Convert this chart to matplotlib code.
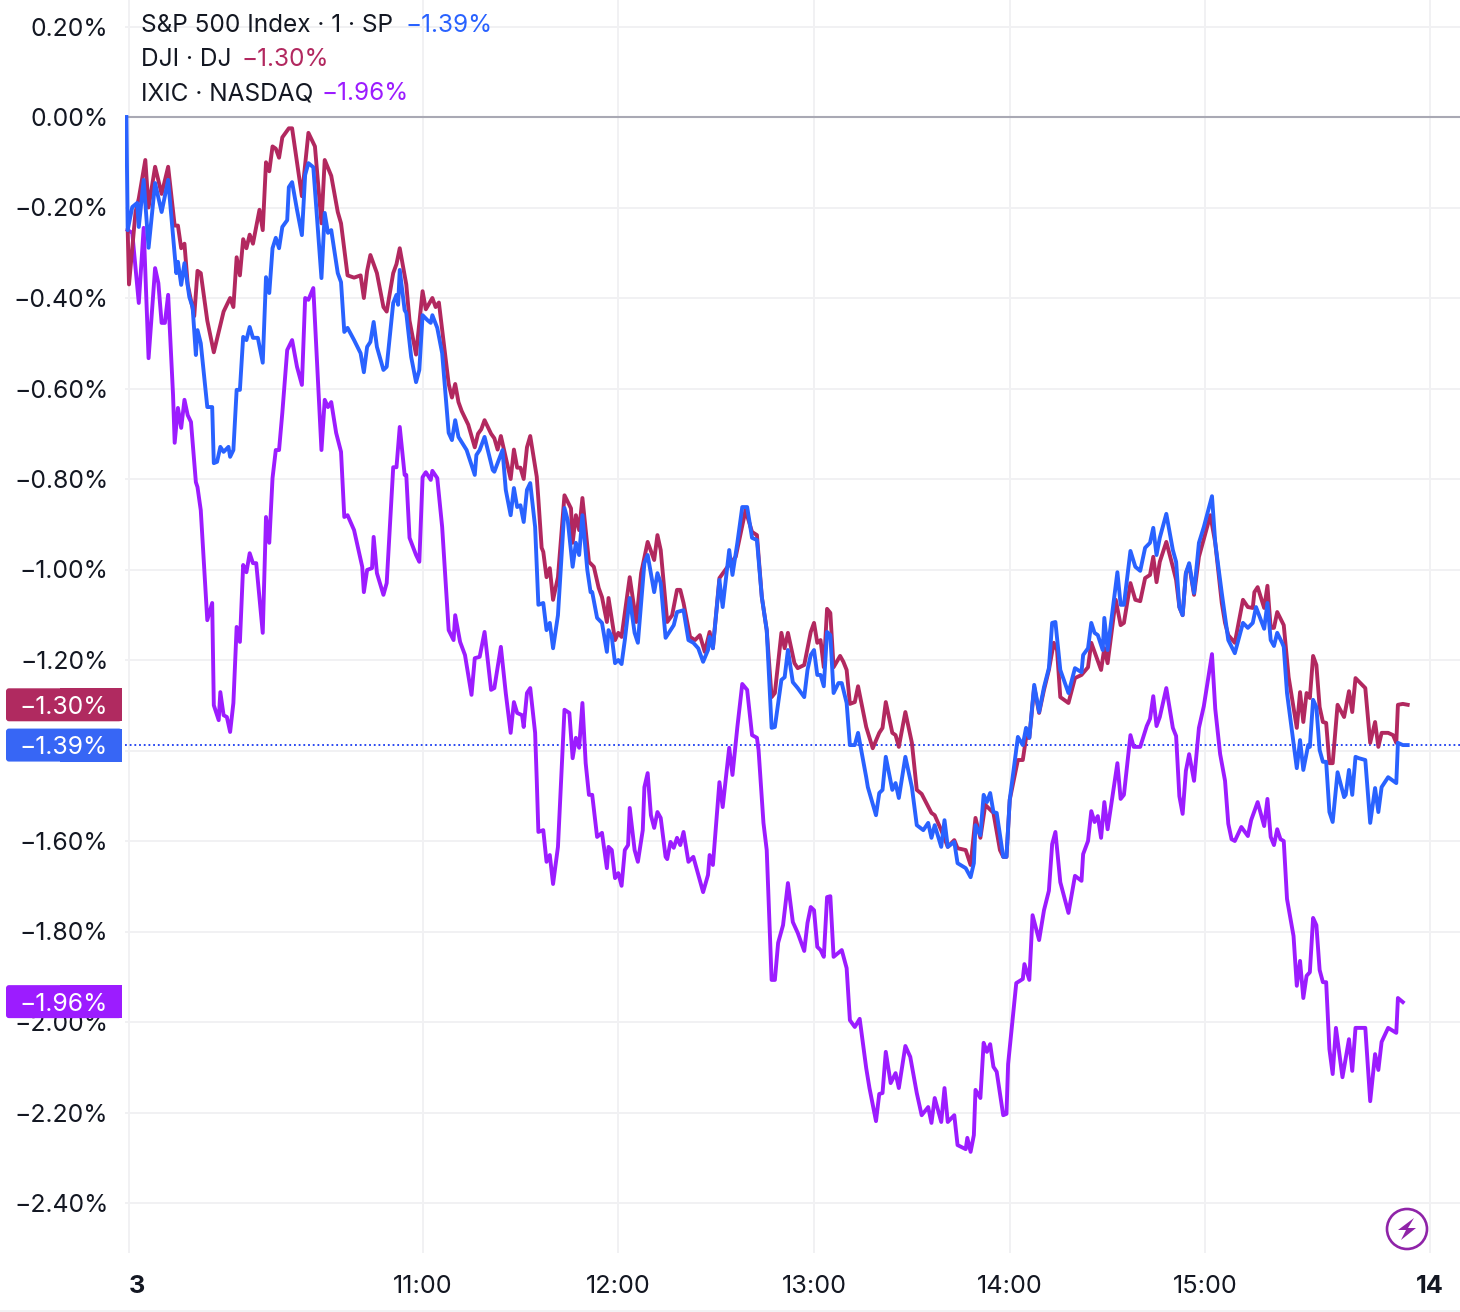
import matplotlib
matplotlib.use("Agg")
import matplotlib.pyplot as plt
from matplotlib.patches import Circle, FancyBboxPatch, Polygon, Rectangle
from matplotlib.transforms import IdentityTransform

plt.rcParams['font.family'] = ['Inter', 'DejaVu Sans']

# (minutes since 09:30, % change)
sp_points = [
    (-0.8, 0), (-0.4, -.25), (1, -.199), (2.5, -.19), (3, -.243), (4.5, -.139), (6, -.289), (8, -.146),
    (10, -.21), (12, -.139), (14.5, -.345), (15, -.32), (16, -.371), (17, -.323), (18.5, -.398),
    (19.5, -.42), (20.5, -.526), (21, -.471), (22, -.5), (24, -.641), (25.5, -.641), (26, -.765),
    (27, -.762), (28, -.729), (29, -.74), (30.5, -.729), (31, -.751), (32, -.736), (33, -.603),
    (34, -.603), (35, -.486), (36, -.493), (37, -.464), (38, -.488), (39.5, -.488), (41, -.543),
    (42, -.354), (43, -.389), (44, -.29), (45, -.267), (46, -.29), (47, -.243), (48.5, -.228),
    (49, -.155), (50, -.144), (51.5, -.205), (53, -.261), (54, -.128), (55, -.102), (56.5, -.111),
    (59, -.356), (60, -.212), (61, -.256), (62, -.25), (64, -.345), (65, -.365), (66, -.475),
    (67, -.466), (69, -.493), (71, -.522), (72, -.564), (73, -.508), (74, -.497), (75, -.453),
    (76, -.508), (78, -.559), (79, -.552), (81, -.411), (82, -.393), (82.5, -.415), (83, -.338),
    (84.5, -.427), (85, -.433), (86.5, -.53), (88, -.586), (89, -.559), (90, -.438), (91.5, -.449),
    (92.5, -.455), (93, -.438), (94.5, -.466), (96, -.522), (98, -.698), (99, -.714), (100, -.67),
    (101, -.707), (103.5, -.736), (104.5, -.758), (106, -.791), (106.5, -.747), (107.5, -.736),
    (109, -.707), (110, -.736), (111.5, -.78), (112, -.784), (114.5, -.736), (115.5, -.824),
    (117, -.88), (118, -.82), (119, -.862), (120, -.858), (121, -.895), (122, -.824), (123, -.809),
    (124.5, -.906), (125.5, -1.078), (127, -1.074), (128, -1.134), (129, -1.118), (130, -1.174),
    (131.5, -1.101), (133.5, -.864), (134.5, -.891), (136, -.994), (137, -.941), (138, -.968),
    (139, -.88), (140.5, -1.001), (141.5, -1.05), (142, -1.05), (143.5, -1.107), (145, -1.118),
    (146.5, -1.182), (147, -1.134), (148, -1.149), (149, -1.207), (150, -1.2), (151, -1.209),
    (152, -1.156), (153.5, -1.063), (155, -1.14), (156, -1.162), (158, -.986), (159, -.968),
    (160.5, -1.03), (161, -1.05), (162, -1.008), (163, -1.03), (164.5, -1.151), (166, -1.134),
    (167, -1.123), (168, -1.094), (170, -1.09), (171.5, -1.156), (173, -1.162), (174.5, -1.174),
    (176, -1.204), (177.5, -1.178), (178, -1.149), (179, -1.174), (181, -1.023), (182, -1.083),
    (184, -.957), (185, -1.012), (186.5, -.941), (188, -.862), (189.5, -.862), (191, -.93),
    (192.5, -.935), (194, -1.061), (195.5, -1.134), (197, -1.35), (198, -1.348), (200, -1.244),
    (201, -1.238), (202, -1.178), (203.5, -1.249), (205, -1.262), (207, -1.282), (208, -1.222),
    (209, -1.189), (210, -1.178), (211, -1.233), (212, -1.233), (213, -1.258), (214, -1.138),
    (215, -1.145), (216, -1.273), (217.5, -1.251), (218.5, -1.251), (220, -1.295), (221, -1.388),
    (222.5, -1.388), (223.5, -1.361), (226, -1.459), (226.5, -1.481), (229, -1.543), (230, -1.494),
    (231, -1.487), (232, -1.414), (234, -1.487), (235, -1.472), (236, -1.505), (238, -1.414),
    (240, -1.481), (241.5, -1.565), (243.5, -1.576), (245, -1.56), (246, -1.593), (247, -1.565),
    (249, -1.613), (250, -1.554), (251, -1.613), (253, -1.602), (254, -1.649), (256.5, -1.66),
    (258, -1.68), (259, -1.649), (259.5, -1.565), (261, -1.587), (262, -1.498), (263, -1.514),
    (264, -1.494), (265, -1.536), (266, -1.538), (268, -1.635), (269, -1.635), (270, -1.509),
    (272.5, -1.37), (274, -1.388), (275, -1.35), (276, -1.372), (277.5, -1.255), (279, -1.315),
    (280.5, -1.26), (282, -1.218), (283, -1.118), (284, -1.116), (285.5, -1.222), (288, -1.273),
    (290, -1.218), (292, -1.227), (292.5, -1.189), (294, -1.174), (295, -1.118), (296, -1.14),
    (297, -1.145), (298.5, -1.178), (299, -1.107), (300, -1.178), (303, -1.006), (304, -1.078),
    (305, -1.078), (307, -.959), (308.5, -.994), (310, -1.003), (311.5, -.952), (313, -.941),
    (314, -.908), (315, -.968), (316, -.93), (318, -.877), (320, -.957), (321, -.983), (322, -1.083),
    (323, -1.101), (324, -1.008), (325, -.986), (326.5, -1.052), (328, -.941), (329.5, -.906),
    (332, -.838), (333, -.941), (335, -1.052), (337, -1.156), (339, -1.185), (341.5, -1.118),
    (343, -1.129), (344.5, -1.118), (345.5, -1.083), (348, -1.131), (349, -1.074), (350, -1.156),
    (351, -1.169), (352, -1.14), (353.5, -1.162), (354, -1.171), (355, -1.273), (358, -1.439),
    (359, -1.377), (360, -1.443), (361.5, -1.388), (362, -1.392), (363, -1.288), (364, -1.304),
    (365, -1.399), (366, -1.425), (367, -1.425), (368, -1.536), (369, -1.558), (370.5, -1.448),
    (372.5, -1.503), (373, -1.498), (374, -1.443), (375, -1.498), (376, -1.414), (377, -1.417),
    (379, -1.421), (380.5, -1.56), (382, -1.483), (383, -1.536), (384, -1.481), (386, -1.459),
    (388.5, -1.472), (389, -1.383), (390.5, -1.388), (392, -1.388),
]

dji_points = [
    (-0.4, -.25), (0, -.37), (2, -.21), (3, -.18), (5, -.095), (6, -.2), (8, -.11), (10, -.17),
    (12, -.11), (14, -.24), (15, -.24), (16, -.29), (17, -.28), (18, -.37), (20, -.44), (21, -.34),
    (22, -.345), (24, -.45), (26, -.52), (27, -.49), (29, -.43), (31, -.4), (32, -.42), (33, -.31),
    (34, -.35), (35, -.27), (36, -.29), (37, -.26), (38, -.28), (40, -.205), (41, -.25), (42, -.1),
    (43, -.12), (44, -.065), (45, -.07), (46, -.09), (47, -.045), (49, -.025), (50, -.025),
    (53, -.175), (55, -.035), (57, -.065), (59, -.235), (60, -.095), (62, -.13), (64, -.21),
    (65, -.235), (67, -.35), (69, -.355), (71, -.35), (72, -.4), (73, -.34), (74, -.305), (76, -.345),
    (78, -.42), (79, -.43), (81, -.345), (82, -.325), (83, -.29), (85, -.37), (86, -.45), (88, -.525),
    (90, -.385), (91, -.425), (93, -.4), (94, -.42), (95, -.41), (96, -.47), (98, -.59), (99, -.62),
    (100, -.59), (101, -.63), (102, -.65), (104, -.68), (106, -.73), (107, -.7), (108, -.69),
    (109, -.67), (111, -.7), (112, -.71), (113, -.735), (114, -.705), (117, -.8), (118, -.735),
    (119, -.775), (120, -.775), (121, -.8), (122, -.73), (123, -.705), (125, -.795), (125.5, -.845),
    (126.5, -.952), (127, -.961), (128, -1.017), (129, -.997), (130, -1.067), (131.5, -1.017),
    (133.5, -.836), (135.5, -.865), (136, -.941), (137, -.88), (138, -.913), (139, -.842),
    (141, -.983), (142.5, -.994), (144, -1.041), (145, -1.061), (146.5, -1.116), (147, -1.063),
    (149, -1.156), (150, -1.14), (151, -1.149), (153.5, -1.017), (155.5, -1.116), (157, -1.008),
    (159, -.939), (161, -.979), (162, -.924), (163, -.957), (165, -1.116), (166.5, -1.101),
    (168, -1.045), (169, -1.045), (170, -1.074), (172, -1.149), (173.5, -1.156), (175, -1.145),
    (176.5, -1.182), (178, -1.138), (179, -1.174), (181, -1.019), (183.5, -.994), (186, -.972),
    (189, -.869), (191, -.917), (192.5, -.924), (194, -1.061), (195.5, -1.134), (197, -1.282),
    (198, -1.273), (200, -1.14), (201, -1.174), (202, -1.14), (204, -1.207), (205, -1.218),
    (207, -1.211), (209, -1.138), (210, -1.118), (211, -1.162), (212, -1.156), (213, -1.216),
    (214, -1.087), (215, -1.096), (216, -1.216), (218, -1.191), (219, -1.204), (220, -1.222),
    (221, -1.297), (222.5, -1.293), (223.5, -1.258), (226, -1.348), (228, -1.395), (230, -1.361),
    (231, -1.35), (232, -1.293), (234, -1.361), (235, -1.366), (236, -1.392), (238, -1.315),
    (240, -1.383), (241.5, -1.487), (243, -1.496), (246, -1.538), (247, -1.543), (249, -1.576),
    (251, -1.613), (253, -1.598), (254, -1.616), (256.5, -1.62), (258, -1.653), (259.5, -1.549),
    (261, -1.593), (262.5, -1.52), (264, -1.531), (265, -1.538), (267, -1.62), (268, -1.635),
    (269, -1.635), (270, -1.509), (272.5, -1.421), (274, -1.421), (275, -1.372), (276, -1.372),
    (277.5, -1.26), (279, -1.317), (280.5, -1.266), (282, -1.222), (283.5, -1.162), (284.5, -1.178),
    (285.5, -1.282), (288, -1.295), (290, -1.24), (292, -1.233), (294, -1.216), (295, -1.162),
    (298, -1.222), (299, -1.174), (300, -1.207), (302.5, -1.067), (304, -1.123), (305, -1.118),
    (307, -1.03), (308.5, -1.067), (310, -1.07), (311.5, -1.019), (313, -1.012), (314, -.972),
    (315, -1.028), (316, -.983), (318, -.939), (320, -.994), (321, -1.023), (322, -1.083),
    (323, -1.101), (324, -1.008), (325, -.99), (326.5, -1.056), (328, -.972), (331.5, -.88),
    (333, -.941), (335, -1.074), (336, -1.118), (337, -1.145), (339, -1.162), (341.5, -1.067),
    (343, -1.083), (344.5, -1.085), (345, -1.05), (346, -1.039), (348, -1.085), (349, -1.036),
    (350, -1.129), (351, -1.129), (352, -1.094), (353.5, -1.116), (354, -1.123), (355.5, -1.238),
    (358, -1.35), (359, -1.271), (360, -1.337), (361, -1.273), (362, -1.284), (363, -1.191),
    (364, -1.211), (365, -1.304), (366, -1.337), (367, -1.339), (368, -1.428), (369, -1.428),
    (370.5, -1.299), (372.5, -1.326), (374, -1.269), (375, -1.315), (376, -1.24), (379, -1.262),
    (380.5, -1.383), (382, -1.337), (383, -1.392), (384, -1.361), (386, -1.361), (387.5, -1.366),
    (388.5, -1.383), (389, -1.299), (390.5, -1.297), (392, -1.299),
]

ixic_points = [
    (-0.4, -.25), (1, -.256), (3, -.411), (4.5, -.245), (6, -.533), (8, -.334), (9, -.367), (10, -.455),
    (11, -.455), (12, -.393), (13.5, -.614), (14, -.72), (15, -.643), (16, -.687), (17, -.625),
    (18, -.659), (19, -.674), (20.5, -.807), (21, -.818), (22, -.869), (24, -1.112), (25.5, -1.074),
    (26, -1.3), (27.5, -1.333), (28, -1.271), (29, -1.322), (30, -1.326), (31, -1.359), (32, -1.295),
    (33, -1.127), (34, -1.16), (35, -.99), (36, -1.006), (37, -.964), (38, -.986), (39, -.986),
    (41, -1.14), (42, -.884), (43, -.941), (44, -.798), (45, -.736), (46, -.736), (47, -.654),
    (48.5, -.515), (50, -.493), (51.5, -.552), (53, -.592), (54, -.4), (55, -.404), (56.5, -.378),
    (59, -.736), (60, -.625), (61, -.641), (62, -.63), (63.5, -.698), (65, -.74), (66, -.884),
    (67, -.88), (69, -.913), (71.5, -.994), (72, -1.05), (73, -1.001), (74.5, -.997), (75, -.928),
    (76, -1.008), (78, -1.056), (79, -1.03), (81, -.774), (82, -.774), (83, -.685), (84.5, -.791),
    (85, -.791), (86, -.93), (88, -.968), (89, -.983), (90, -.796), (91, -.785), (92.5, -.802),
    (93, -.782), (94.5, -.798), (96, -.906), (98, -1.134), (99.5, -1.156), (100, -1.101),
    (101.5, -1.16), (103, -1.189), (105, -1.277), (106, -1.196), (107.5, -1.193), (109, -1.138),
    (111, -1.266), (112, -1.262), (114, -1.171), (115.5, -1.273), (117, -1.361), (118, -1.293),
    (119, -1.317), (120.5, -1.322), (121, -1.348), (122, -1.273), (123, -1.262), (124.5, -1.361),
    (125, -1.465), (125.5, -1.58), (127, -1.576), (128, -1.646), (129, -1.631), (130, -1.695),
    (131.5, -1.613), (133.5, -1.31), (135, -1.317), (136, -1.417), (137, -1.372), (138, -1.394),
    (139, -1.295), (140, -1.428), (141, -1.498), (142, -1.498), (143.5, -1.591), (145, -1.582),
    (146.5, -1.66), (147, -1.613), (148, -1.62), (149, -1.682), (150, -1.671), (151, -1.699),
    (152, -1.62), (153, -1.609), (153.5, -1.527), (155, -1.62), (156, -1.646), (157.5, -1.576),
    (158, -1.481), (159, -1.45), (160, -1.543), (161, -1.571), (162, -1.536), (163, -1.549),
    (164.5, -1.635), (165, -1.64), (166, -1.602), (167, -1.615), (168, -1.593), (169, -1.609),
    (170, -1.58), (171.5, -1.646), (173, -1.635), (176, -1.713), (177.5, -1.675), (178, -1.631),
    (179, -1.653), (181, -1.47), (182, -1.525), (184, -1.394), (185, -1.454), (186.5, -1.348),
    (188, -1.253), (189.5, -1.266), (191, -1.366), (192.5, -1.372), (193, -1.399), (194.5, -1.56),
    (195.5, -1.62), (197, -1.907), (198, -1.907), (199, -1.825), (200.5, -1.786), (202, -1.693),
    (203.5, -1.779), (205, -1.803), (207, -1.843), (208, -1.781), (209, -1.746), (210, -1.753),
    (211, -1.834), (212, -1.841), (213, -1.856), (214, -1.724), (215, -1.722), (216, -1.856),
    (218.5, -1.841), (220, -1.881), (221, -1.996), (222.5, -2.011), (224, -1.993), (226, -2.102),
    (227, -2.146), (229, -2.219), (230, -2.159), (231, -2.157), (232, -2.066), (233.5, -2.135),
    (235, -2.113), (236, -2.146), (238, -2.053), (239.5, -2.077), (241.5, -2.157), (243, -2.206),
    (245, -2.188), (246, -2.223), (247, -2.168), (249, -2.221), (250, -2.146), (251, -2.221),
    (253, -2.206), (254, -2.272), (256.5, -2.281), (257, -2.256), (258, -2.287), (259, -2.25),
    (259.5, -2.15), (261, -2.168), (262, -2.046), (263, -2.066), (264, -2.049), (265, -2.099),
    (266, -2.11), (268, -2.206), (269, -2.203), (269.5, -2.093), (272, -1.914), (274, -1.905),
    (274.5, -1.872), (276, -1.907), (277, -1.764), (279, -1.819), (280.5, -1.753), (282, -1.71),
    (283, -1.607), (284, -1.58), (285.5, -1.691), (288, -1.759), (290, -1.677), (292, -1.688),
    (292.5, -1.629), (294, -1.6), (295, -1.534), (296, -1.558), (297, -1.545), (298, -1.593),
    (299, -1.514), (300, -1.574), (303, -1.428), (304, -1.507), (305, -1.498), (307, -1.366),
    (308, -1.392), (310, -1.392), (312, -1.346), (313, -1.33), (314, -1.28), (315, -1.346),
    (316, -1.326), (318, -1.262), (320, -1.35), (321, -1.368), (322, -1.501), (323, -1.54),
    (324, -1.445), (325, -1.408), (326.5, -1.467), (328, -1.35), (329.5, -1.302), (332, -1.187),
    (333, -1.308), (334.5, -1.408), (336, -1.467), (337, -1.562), (338, -1.596), (339, -1.6),
    (341, -1.569), (343, -1.589), (344, -1.554), (346, -1.514), (348, -1.567), (349, -1.507),
    (350, -1.591), (351, -1.609), (352, -1.574), (353, -1.596), (354, -1.6), (355, -1.728),
    (357, -1.81), (358, -1.92), (359, -1.865), (360, -1.947), (361, -1.898), (362, -1.89),
    (363, -1.77), (364, -1.786), (365, -1.885), (366, -1.912), (367, -1.912), (368, -2.06),
    (369, -2.115), (370, -2.013), (372, -2.122), (374, -2.038), (375, -2.108), (376, -2.013),
    (379, -2.013), (380.5, -2.175), (382, -2.071), (383, -2.106), (384, -2.044), (386, -2.013),
    (388.5, -2.024), (389, -1.947), (390.5, -1.956),
]

y_ticks = [0.2, 0, -0.2, -0.4, -0.6, -0.8, -1.0, -1.2, -1.6, -1.8, -2.0, -2.2, -2.4]
x_ticks = [0, 90, 150, 210, 270, 330, 398.8]
x_labels = ['3', '11:00', '12:00', '13:00', '14:00', '15:00', '14']

names = ['S&P 500 Index · 1 · SP', 'DJI · DJ', 'IXIC · NASDAQ']
last_labels = ['−1.39%', '−1.30%', '−1.96%']
last_values = [-1.388, -1.299, -1.955]

BLUE = '#2962ff'
RED = '#b2285f'
PURPLE = '#9c1cff'
INK = '#131722'
GRID = '#f1f1f3'
W, H = 1460, 1312

fig = plt.figure(figsize=(W / 100, H / 100), dpi=100)
# axes box in pixels: x 125..1460, y 0..1253
ax = fig.add_axes([125 / W, (H - 1253) / H, (W - 125) / W, 1253 / H])
ax.set_xlim((125 - 129) / 3.262, (1460 - 129) / 3.262)
ax.set_ylim(-(1253 - 117) / 452.5, 117 / 452.5)
for side in ax.spines.values():
    side.set_visible(False)

ax.set_yticks(y_ticks)
ax.set_yticklabels([(f'{t:.2f}%').replace('-', '−') for t in y_ticks], fontsize=17.8, color=INK)
ax.set_xticks(x_ticks)
ax.set_xticklabels(x_labels, fontsize=18.2, color=INK)
ax.tick_params(axis='y', length=0, pad=12)
ax.tick_params(axis='x', length=0, pad=16)
for lab in ax.get_xticklabels():
    if lab.get_text() in ('3', '14'):
        lab.set_fontweight('bold')
ax.get_xticklabels()[0].set_ha('left')
ax.grid(True, color=GRID, lw=1.4)
ax.set_axisbelow(True)
# -1.40% has its gridline even though the label is hidden by the badges
ax.axhline(-1.4, color=GRID, lw=1.4, zorder=1)
ax.axhline(0, color='#a9a9b4', lw=1.5, zorder=1.5)
ax.axhline(last_values[0], color='#1a3cf0', lw=1.3, ls=(0, (1, 1.6)), zorder=1.6)

for points, colour in [(ixic_points, PURPLE), (dji_points, RED), (sp_points, BLUE)]:
    t, v = zip(*points)
    ax.plot(t, v, color=colour, lw=2.8, solid_joinstyle='round', zorder=3)

# legend block, top left
px = IdentityTransform()
for name, lab, colour, row_y, val_x in zip(names, last_labels, [BLUE, RED, PURPLE], [23, 57, 91], [406, 242, 322]):
    fig.text(141, H - row_y, name, transform=px, fontsize=17.55, color=INK, va='center_baseline')
    fig.text(val_x, H - row_y, lab, transform=px, fontsize=17.55, color=colour, va='center_baseline')

# price badges on the scale
badge_fill = {RED: '#b02a60', BLUE: '#3766f5', PURPLE: '#9c1cff'}
for val, lab, colour in zip(last_values, last_labels, [BLUE, RED, PURPLE]):
    yc = ax.transData.transform((0, val))[1]
    fill = badge_fill[colour]
    fig.add_artist(FancyBboxPatch((9, yc - 13.5), 110, 27, boxstyle='round,pad=3,rounding_size=3',
                                  transform=px, fc=fill, ec='none', zorder=5))
    fig.add_artist(Rectangle((60, yc - 16.5), 62, 33, transform=px, fc=fill, ec='none', zorder=5))
    fig.text(108, yc, lab, transform=px, fontsize=17.8, color='white', ha='right',
             va='center_baseline', zorder=6)

# bolt badge, bottom right
fig.add_artist(Circle((1407, H - 1229), 20, transform=px, fc='white', ec='#8f24a8', lw=1.9, zorder=5))
bolt = [(1414, 1218), (1398, 1230), (1406, 1230), (1401, 1240), (1416, 1228), (1408, 1228)]
fig.add_artist(Polygon([(x, H - y) for x, y in bolt], transform=px, fc='#8f24a8', ec='none', zorder=6))

# thin pale strip along the bottom edge
fig.add_artist(Rectangle((0, 0), W, 2, transform=px, fc='#f2f2f4', ec='none'))

fig.savefig('out.png', dpi=100)
